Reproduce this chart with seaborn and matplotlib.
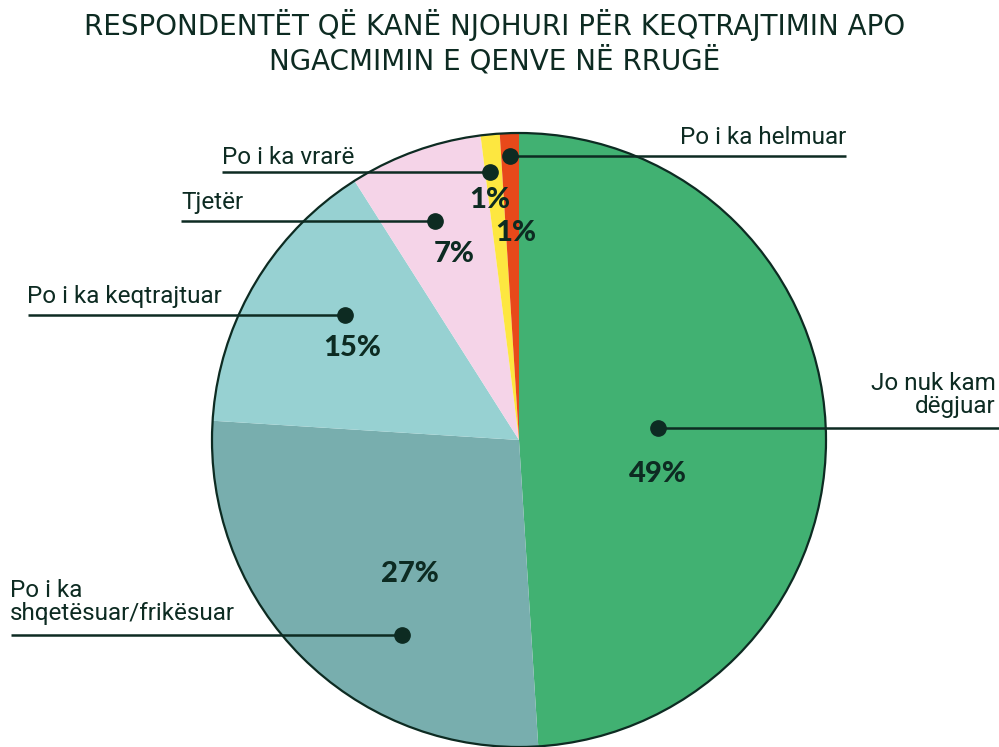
import matplotlib
matplotlib.use("Agg")
import matplotlib.pyplot as plt
import seaborn as sns

# ---- data ----
categories = ["Jo nuk kam\ndëgjuar", "Po i ka\nshqetësuar/frikësuar", "Po i ka keqtrajtuar",
              "Tjetër", "Po i ka vrarë", "Po i ka helmuar"]
values = [49, 27, 15, 7, 1, 1]
pct_labels = ["49%", "27%", "15%", "7%", "1%", "1%"]
title = "RESPONDENTËT QË KANË NJOHURI PËR KEQTRAJTIMIN APO\nNGACMIMIN E QENVE NË RRUGË"

colors = ["#41B172", "#78AEAE", "#97D1D2", "#F5D4E8", "#FDE740", "#E8491A"]
ink = "#0D2B22"

sns.set_theme(style="white")
plt.rcParams['font.family'] = ['Roboto', 'DejaVu Sans']

W, H = 999, 747
fig = plt.figure(figsize=(W / 100, H / 100), dpi=100)
ax = fig.add_axes([0, 0, 1, 1])

def Y(y):
    return H - y

cx, cy, R = 519, 440, 307
wedges, _ = ax.pie(values, colors=colors, startangle=90, counterclock=False,
                   center=(cx, Y(cy)), radius=R,
                   wedgeprops=dict(linewidth=0))
circ = plt.Circle((cx, Y(cy)), R, fill=False, edgecolor=ink, linewidth=1.6, zorder=3)
ax.add_patch(circ)

ax.set_xlim(0, W)
ax.set_ylim(0, H)
ax.set_aspect("equal")
ax.axis("off")

# annotation layout: (text x, text y, ha, line x end, dot x, dot y)
layout = [
    (996, 395, "right", 999, 658, 428),
    (10, 602, "left", 11, 402, 635),
    (27, 297, "left", 28, 345, 315),
    (181, 203, "left", 181, 435, 221),
    (222, 158, "left", 222, 490, 172),
    (846, 138, "right", 846, 510, 156),
]
for cat, (tx, ty, ha, lx, dx, dy) in zip(categories, layout):
    ax.text(tx, Y(ty), cat, ha=ha, va="center", fontsize=17.5, color=ink,
            multialignment=ha, linespacing=1.0, zorder=5)
    ax.plot([lx, dx], [Y(dy), Y(dy)], color=ink, lw=1.8, zorder=4, solid_capstyle="butt")
    ax.plot([dx], [Y(dy)], marker="o", ms=11, color=ink, zorder=6)

pct_pos = [(658, 474), (410, 574), (352, 348), (454, 254), (490, 200), (516, 233)]
for lab, (px, py) in zip(pct_labels, pct_pos):
    ax.text(px, Y(py), lab, ha="center", va="center", fontsize=21, fontweight=900,
            color=ink, family=['Lato', 'DejaVu Sans'], zorder=7)

ax.text(495, Y(42), title, ha="center", va="center", fontsize=20, color=ink,
        family=['DejaVu Sans'], linespacing=1.2, zorder=7)

fig.savefig("out.png", dpi=100)
